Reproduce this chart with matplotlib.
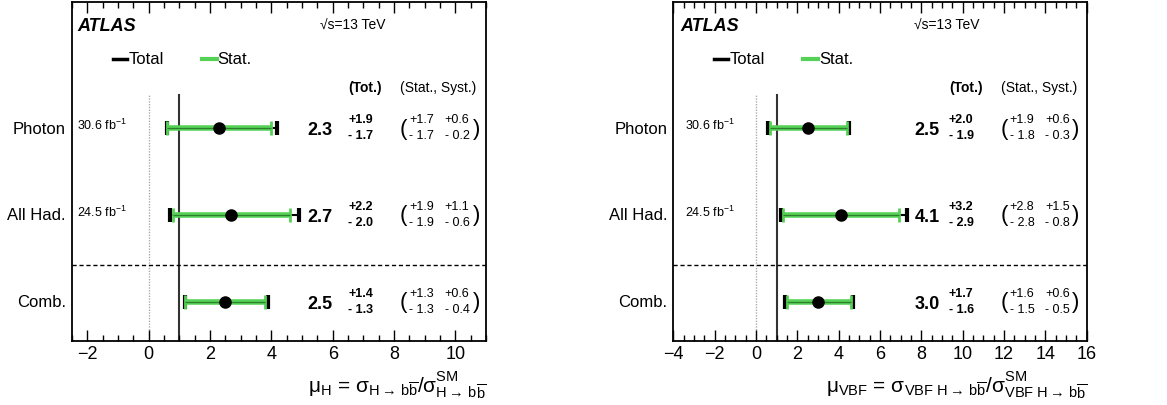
import matplotlib
matplotlib.use("Agg")
import matplotlib.pyplot as plt
from matplotlib.ticker import MultipleLocator

plt.rcParams['font.family'] = ['Liberation Sans', 'DejaVu Sans']
plt.rcParams['mathtext.fontset'] = 'custom'
plt.rcParams['mathtext.rm'] = 'Liberation Sans'
plt.rcParams['mathtext.it'] = 'Liberation Sans:italic'
plt.rcParams['mathtext.bf'] = 'Liberation Sans:bold'

# data
channels = ['Photon', 'All Had.', 'Comb.']
lumis = ['30.6', '24.5', None]

mu_H = [2.3, 2.7, 2.5]
tot_up_H = [1.9, 2.2, 1.4]
tot_dn_H = [1.7, 2.0, 1.3]
stat_up_H = [1.7, 1.9, 1.3]
stat_dn_H = [1.7, 1.9, 1.3]
syst_up_H = [0.6, 1.1, 0.6]
syst_dn_H = [0.2, 0.6, 0.4]

mu_VBF = [2.5, 4.1, 3.0]
tot_up_VBF = [2.0, 3.2, 1.7]
tot_dn_VBF = [1.9, 2.9, 1.6]
stat_up_VBF = [1.9, 2.8, 1.6]
stat_dn_VBF = [1.8, 2.8, 1.5]
syst_up_VBF = [0.6, 1.5, 0.6]
syst_dn_VBF = [0.3, 0.8, 0.5]

GREEN = '#55d155'
ypos = [2, 1, 0]
YLO, YHI = -0.45, 3.45


def draw_panel(ax, mu, tu, td, su, sd, yu, yd, xlim, xlabel, ofs):
    ax.set_xlim(*xlim)
    ax.set_ylim(YLO, YHI)

    # reference lines
    ax.plot([1, 1], [YLO, 2.38], color='#333333', lw=1.5, zorder=1)
    ax.plot([0, 0], [YLO, 2.38], color='#aaaaaa', lw=1.0, ls=(0, (1, 1)), zorder=1)
    ax.axhline(0.43, color='black', lw=1.0, ls=(0, (3, 2)), zorder=1)

    # total (black) and stat (green) error bars
    ax.errorbar(mu, ypos, xerr=[td, tu], fmt='none', ecolor='black',
                elinewidth=1.5, capsize=5, capthick=3, zorder=2)
    ax.errorbar(mu, ypos, xerr=[sd, su], fmt='none', ecolor=GREEN,
                elinewidth=4, capsize=5, capthick=2, zorder=3)
    ax.errorbar(mu, ypos, xerr=[sd, su], fmt='none', ecolor='#1c5c1c',
                elinewidth=0.9, alpha=0.7, zorder=4)
    ax.plot(mu, ypos, 'o', color='black', ms=8, zorder=5)

    tr = ax.get_yaxis_transform()
    for i, y in enumerate(ypos):
        ax.text(-0.015, y, channels[i], transform=tr, ha='right', va='center', fontsize=12)
        if lumis[i] is not None:
            ax.text(ofs['lumi'], y + 0.04, lumis[i] + r' fb$^{\mathrm{-1}}$', transform=tr,
                    ha='left', va='center', fontsize=9)
        ax.text(ofs['val'], y - 0.02, '%.1f' % mu[i], transform=tr, ha='right', va='center',
                fontsize=13, fontweight='bold')
        ax.text(ofs['tot'], y + 0.1, '+%.1f' % tu[i], transform=tr, ha='left', va='center',
                fontsize=9, fontweight='bold')
        ax.text(ofs['tot'], y - 0.08, '- %.1f' % td[i], transform=tr, ha='left', va='center',
                fontsize=9, fontweight='bold')
        ax.text(0.792, y, '(', transform=tr, ha='left', va='center', fontsize=16)
        ax.text(0.814, y + 0.1, '+%.1f' % su[i], transform=tr, ha='left', va='center', fontsize=9)
        ax.text(0.814, y - 0.08, '- %.1f' % sd[i], transform=tr, ha='left', va='center', fontsize=9)
        ax.text(0.9, y + 0.1, '+%.1f' % yu[i], transform=tr, ha='left', va='center', fontsize=9)
        ax.text(0.9, y - 0.08, '- %.1f' % yd[i], transform=tr, ha='left', va='center', fontsize=9)
        ax.text(ofs['rp'], y, ')', transform=tr, ha='left', va='center', fontsize=16)

    ax.text(ofs['atlas'], 0.932, 'ATLAS', transform=ax.transAxes, ha='left', va='center',
            fontsize=13, fontweight='bold', fontstyle='italic')
    ax.text(ofs['sqrt'], 0.932, '√s=13 TeV', transform=ax.transAxes, ha='left', va='center',
            fontsize=10)
    ax.plot([0.099, 0.133], [0.832, 0.832], color='black', lw=2.5, transform=ax.transAxes)
    ax.text(0.137, 0.832, 'Total', transform=ax.transAxes, ha='left', va='center', fontsize=12)
    ax.plot([0.314, 0.35], [0.832, 0.832], color=GREEN, lw=3, transform=ax.transAxes)
    ax.text(0.352, 0.832, 'Stat.', transform=ax.transAxes, ha='left', va='center', fontsize=12)
    ax.text(0.707, 0.749, '(Tot.)', transform=ax.transAxes, ha='center', va='center',
            fontsize=10, fontweight='bold')
    ax.text(0.884, 0.749, '(Stat., Syst.)', transform=ax.transAxes, ha='center', va='center',
            fontsize=10)

    ax.text(1.0, -0.08, xlabel, transform=ax.transAxes, ha='right', va='top', fontsize=15)

    ax.xaxis.set_major_locator(MultipleLocator(2))
    ax.xaxis.set_minor_locator(MultipleLocator(0.5))
    ax.tick_params(axis='x', which='both', direction='in', top=True, bottom=True,
                   labelsize=13, pad=3)
    ax.tick_params(axis='x', which='major', length=8, width=1)
    ax.tick_params(axis='x', which='minor', length=4, width=1)
    ax.set_yticks([])
    for sp in ax.spines.values():
        sp.set_linewidth(1.3)


fig = plt.figure(figsize=(11.67, 4.06), dpi=100)
ax1 = fig.add_axes([0.0617, 0.1576, 0.3548, 0.835])
ax2 = fig.add_axes([0.577, 0.1576, 0.3542, 0.835])

bb = r'\mathrm{b}\overline{\mathrm{b}}'
label_H = (r'μ$_{\mathrm{H}}$ = σ$_{\mathrm{H}\rightarrow\,' + bb + r'}$'
           r'/σ$^{\mathrm{SM}}_{\mathrm{H}\rightarrow\,' + bb + r'}$')
label_VBF = (r'μ$_{\mathrm{VBF}}$ = σ$_{\mathrm{VBF\ H}\rightarrow\,' + bb + r'}$'
             r'/σ$^{\mathrm{SM}}_{\mathrm{VBF\ H}\rightarrow\,' + bb + r'}$')

draw_panel(ax1, mu_H, tot_up_H, tot_dn_H, stat_up_H, stat_dn_H, syst_up_H, syst_dn_H,
           (-2.5, 11), label_H,
           dict(lumi=0.013, val=0.630, tot=0.667, rp=0.969, atlas=0.012, sqrt=0.599))
draw_panel(ax2, mu_VBF, tot_up_VBF, tot_dn_VBF, stat_up_VBF, stat_dn_VBF, syst_up_VBF,
           syst_dn_VBF, (-4, 16), label_VBF,
           dict(lumi=0.028, val=0.645, tot=0.666, rp=0.964, atlas=0.016, sqrt=0.581))

fig.savefig('out.png', dpi=100)
